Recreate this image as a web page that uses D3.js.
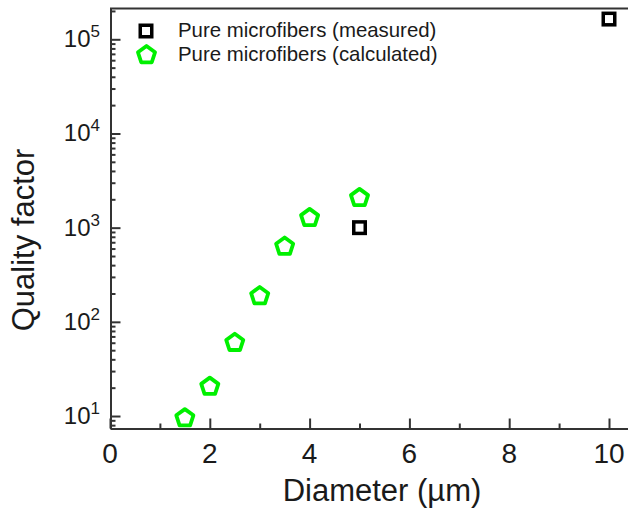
<!DOCTYPE html>
<html>
<head>
<meta charset="utf-8">
<script src="https://cdn.jsdelivr.net/npm/d3@7"></script>
<style>
  body { margin: 0; background: #fff; }
  svg { display: block; font-family: "Liberation Sans", Arial, sans-serif; }
</style>
</head>
<body>
<div id="chart"></div>
<script>
// data
var calcDiameter = [1.5, 2, 2.5, 3, 3.5, 4, 5];
var calcQuality = [9.5, 20.5, 60, 188, 630, 1270, 2070];
var measDiameter = [5, 10];
var measQuality = [1000, 164000];
var xTicks = [0, 2, 4, 6, 8, 10];
var yExponents = [1, 2, 3, 4, 5];
var legendLabels = ["Pure microfibers (measured)", "Pure microfibers (calculated)"];

const svgWidth = 628;
const svgHeight = 509;

var svg = d3.select("#chart")
    .append("svg")
    .attr("width", svgWidth)
    .attr("height", svgHeight);

// scales
var x = d3.scaleLinear()
    .domain([0, 10.5])
    .range([110, 110 + 49.9 * 10.5]);

var y = d3.scaleLog()
    .domain([7.37, 212300])
    .range([428.5, 8.5]);

var axisColor = "#333";
var textColor = "#1a1a1a";

// minor y ticks (2..9 of each decade)
var yMinor = [];
for (var e = 0; e <= 5; e++) {
    for (var m = 2; m <= 9; m++) {
        var v = m * Math.pow(10, e);
        if (v > y.domain()[0] && v < y.domain()[1]) yMinor.push(v);
    }
}
var yMajor = yExponents.map(d => Math.pow(10, d));

// x minor ticks at odd values
var xMinor = [1, 3, 5, 7, 9];

function styleAxis(g) {
    g.selectAll("path").attr("stroke", axisColor).attr("stroke-width", 2);
    g.selectAll("line").attr("stroke", axisColor).attr("stroke-width", 2);
}

// x axis
svg.append("g")
    .attr("transform", "translate(0, 428.5)")
    .call(d3.axisBottom(x).tickValues(xMinor).tickSize(-5).tickSizeOuter(0).tickFormat(""))
    .call(styleAxis);

var xAxis = svg.append("g")
    .attr("transform", "translate(0, 428.5)")
    .call(d3.axisBottom(x).tickValues(xTicks).tickSize(-10).tickSizeOuter(0).tickFormat(""))
    .call(styleAxis);
xAxis.select("path").remove();

svg.selectAll(".xlabel")
    .data(xTicks)
    .enter()
    .append("text")
    .attr("class", "xlabel")
    .attr("x", d => x(d))
    .attr("y", 463)
    .attr("text-anchor", "middle")
    .attr("font-size", 28)
    .attr("fill", textColor)
    .text(d => d);

// y axis
svg.append("g")
    .attr("transform", "translate(110.5, 0)")
    .call(d3.axisLeft(y).tickValues(yMinor).tickSize(-5).tickSizeOuter(0).tickFormat(""))
    .call(styleAxis);

var yAxis = svg.append("g")
    .attr("transform", "translate(110.5, 0)")
    .call(d3.axisLeft(y).tickValues(yMajor).tickSize(-10).tickSizeOuter(0).tickFormat(""))
    .call(styleAxis);
yAxis.select("path").remove();

// top frame line
svg.append("line")
    .attr("x1", 110)
    .attr("x2", svgWidth)
    .attr("y1", 8.5)
    .attr("y2", 8.5)
    .attr("stroke", axisColor)
    .attr("stroke-width", 2);

var yLabels = svg.selectAll(".ylabel")
    .data(yExponents)
    .enter()
    .append("text")
    .attr("class", "ylabel")
    .attr("x", 100)
    .attr("y", d => y(Math.pow(10, d)) + 8)
    .attr("text-anchor", "end")
    .attr("font-size", 24)
    .attr("fill", textColor);
yLabels.append("tspan").text("10");
yLabels.append("tspan")
    .attr("dy", -10)
    .attr("font-size", 17)
    .text(d => d);

// axis titles
svg.append("text")
    .attr("x", 382)
    .attr("y", 501)
    .attr("text-anchor", "middle")
    .attr("font-size", 31)
    .attr("fill", textColor)
    .text("Diameter (\u00b5m)");

svg.append("text")
    .attr("transform", "translate(34, 240) rotate(-90)")
    .attr("text-anchor", "middle")
    .attr("font-size", 31)
    .attr("fill", textColor)
    .text("Quality factor");

// pentagon marker, point up (no built-in d3 pentagon symbol)
var pentR = 9;
var pentagon = d3.lineRadial()
    .angle(d => d * 2 * Math.PI / 5)
    .radius(pentR)
    .curve(d3.curveLinearClosed)([0, 1, 2, 3, 4]);
var squareSize = 11.5;
var green = "#00f000";

// measured (squares)
svg.append("g")
    .selectAll("rect")
    .data(measDiameter)
    .enter()
    .append("rect")
    .attr("x", d => x(d) - squareSize / 2)
    .attr("y", (d, i) => y(measQuality[i]) - squareSize / 2)
    .attr("width", squareSize)
    .attr("height", squareSize)
    .attr("fill", "#fff")
    .attr("stroke", "#000")
    .attr("stroke-width", 3.5);

// calculated (pentagons)
svg.append("g")
    .selectAll("path")
    .data(calcDiameter)
    .enter()
    .append("path")
    .attr("d", pentagon)
    .attr("transform", (d, i) => `translate(${x(d)}, ${y(calcQuality[i])})`)
    .attr("fill", "#fff")
    .attr("stroke", green)
    .attr("stroke-width", 3.8)
    .attr("stroke-linejoin", "round");

// legend
var legend = svg.append("g");
legend.append("rect")
    .attr("x", 146 - squareSize / 2)
    .attr("y", 31 - squareSize / 2)
    .attr("width", squareSize)
    .attr("height", squareSize)
    .attr("fill", "#fff")
    .attr("stroke", "#000")
    .attr("stroke-width", 3.5);
legend.append("path")
    .attr("d", pentagon)
    .attr("transform", "translate(146.5, 55)")
    .attr("fill", "#fff")
    .attr("stroke", green)
    .attr("stroke-width", 3.8)
    .attr("stroke-linejoin", "round");
legend.selectAll("text")
    .data(legendLabels)
    .enter()
    .append("text")
    .attr("x", 178)
    .attr("y", (d, i) => 37 + i * 24)
    .attr("font-size", 20.4)
    .attr("fill", textColor)
    .text(d => d);
</script>
</body>
</html>
